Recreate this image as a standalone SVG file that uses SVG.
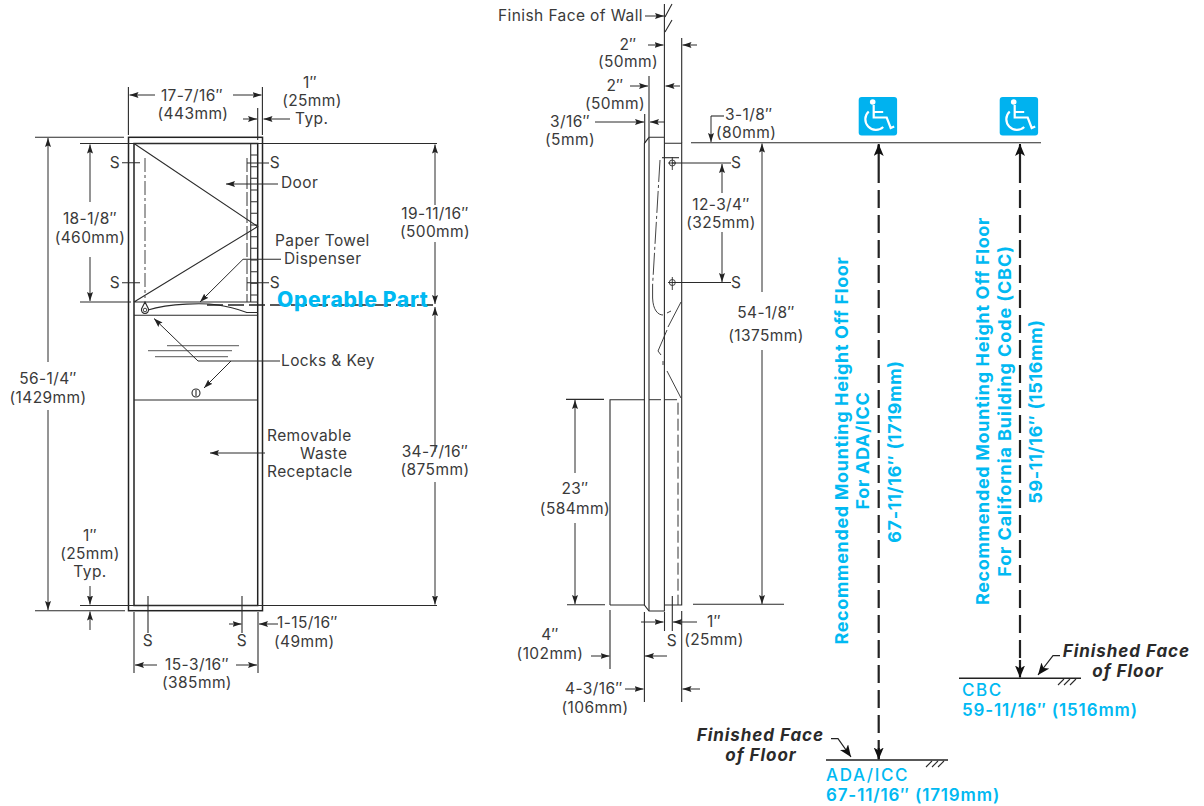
<svg xmlns="http://www.w3.org/2000/svg" width="1204" height="806" viewBox="0 0 1204 806">
<style>
text{font-family:"Inter","Liberation Sans",sans-serif;font-size:15.5px;letter-spacing:.4px;fill:#3a3a3a}
.m{text-anchor:middle}
.e{text-anchor:end}
.b{fill:#00b9f2;font-size:17px;letter-spacing:1.6px;font-weight:500}
.bb{fill:#00b9f2;font-weight:600;font-size:17px;letter-spacing:.85px}
.rt{fill:#00b9f2;font-weight:700;font-size:18px;letter-spacing:.65px}
.op{fill:#00b9f2;font-weight:800;font-size:21px;letter-spacing:.7px}
.ff{fill:#2a2a2a;font-weight:700;font-style:italic;font-size:17px;letter-spacing:.95px}
.l{fill:none;stroke:#2b2b2b;stroke-width:1.1}
.o{fill:none;stroke:#222;stroke-width:1.5}
.g{fill:none;stroke:#777;stroke-width:1.3}
.t{fill:none;stroke:#2b2b2b;stroke-width:.9}
.a{fill:none;stroke:#2b2b2b;stroke-width:1;marker-end:url(#ar)}
.dd{fill:none;stroke:#222;stroke-width:2.2;stroke-dasharray:18 7}
.dc{fill:none;stroke:#444;stroke-width:1;stroke-dasharray:14 3 3 3}
.dh{fill:none;stroke:#333;stroke-width:1;stroke-dasharray:12 5}
.w{fill:none;stroke:#fff;stroke-width:2.2}
</style>
<defs>
<marker id="ar" markerUnits="userSpaceOnUse" markerWidth="10" markerHeight="8" refX="9" refY="3" orient="auto"><path d="M0,0L9,3L0,6L1.5,3Z" fill="#222"/></marker>
<marker id="arb" markerUnits="userSpaceOnUse" markerWidth="14" markerHeight="12" refX="12" refY="5" orient="auto"><path d="M0,0L12,5L0,10L3,5Z" fill="#111"/></marker>
<g id="wc">
<rect width="38.4" height="38.4" rx="3" fill="#00b2ef"/>
<circle cx="14" cy="5" r="2.8" fill="#fff"/>
<path class="w" d="M15,8V20.5H28L32,31L35.5,29.5M15,15H24.5"/>
<path class="w" d="M10,14.5A10.5,10.5 0 1 0 24.5,30"/>
</g>
</defs>

<g id="front-view">
<rect class="o" x="128.5" y="137.3" width="134" height="473.4"/>
<rect class="o" x="134" y="143.5" width="123.7" height="462"/>
<path class="l" d="M134,143.5L257.7,226.5L134,302M134,302H257.7M134,315.3H257.7M134,400H257.7"/>
<path class="l" d="M250.7,143.5V302M250.7,155H257.7M250.7,166.7H257.7M250.7,178.3H257.7M250.7,190H257.7M250.7,201.7H257.7M250.7,213.3H257.7M250.7,225H257.7M250.7,236.7H257.7M250.7,248.3H257.7M250.7,260H257.7M250.7,271.7H257.7M250.7,283.3H257.7M250.7,295H257.7"/>
<path class="dc" d="M145,158V298"/>
<path class="dh" d="M247,158V302" style="stroke-dasharray:14 3"/>
<path class="l" d="M148,310C170,303 205,303 218,305C232,307 240,310 247,312.5H257.7"/>
<path class="l" d="M145,302L141.5,309A3.6,3.6 0 1 0 148.5,309Z"/>
<circle class="t" cx="145" cy="310" r="1.8"/>
<path class="g" d="M167,345.7H239M148,350.7H232M155,356.7H228"/>
<circle class="l" cx="196" cy="393" r="4"/>
<path class="l" d="M196,390V396"/>
</g>

<g id="side-view">
<path class="l" d="M664.4,4V611H649L644.4,605V143.3L649,137.3H664.4"/>
<path class="l" d="M649,137.3V611M664.4,143.3H681.7V605H664.4M610,605H644.4M610,605V399.7H644.4"/>
<path class="dh" d="M649,399.7H678V605" style="stroke-dasharray:12 4"/>
<path class="l" d="M665,17L672,4M665,32L672,20"/>
<path class="l" d="M662,157.7H679"/>
<circle class="t" cx="672.3" cy="163" r="3"/><path class="t" d="M672.3,157V170M668,163H676"/>
<circle class="t" cx="672.3" cy="282.5" r="3"/><path class="t" d="M672.3,277V290M668,282.5H676"/>
<path class="dc" d="M660,160L652.6,285" style="stroke-dasharray:22 3 3 3"/>
<path class="t" d="M652.6,285V298C653,310 658,315 663,315"/>
<path class="t" d="M667,313L671,311M681,302L668,327M667,330L658,351L661,355M663,361V365M667,371L681,398"/>
</g>

<g id="connectors">
<path class="l" d="M128.4,87V135M262.4,87V135M257.7,108V140M35,137.3H124M35,610.7H125M80,143.5H437M80,302H131M80,605.5H437"/>
<path class="a" d="M155,95H129.5"/><path class="a" d="M233,95H261.5"/>
<path class="a" d="M243,119H257"/><path class="a" d="M290,119H263.5"/>
<path class="a" d="M48,362V138"/><path class="a" d="M48,410V610"/>
<path class="a" d="M90,202V144.5"/><path class="a" d="M90,257V301"/>
<path class="a" d="M435,205V144.5"/><path class="a" d="M435,242V304"/>
<path class="a" d="M435,452V307"/><path class="a" d="M435,482V604.5"/>
<path class="l" d="M122,162.7H140M122,282.7H140M247,163H269M247,282.7H269"/>
<path class="a" d="M278,184H226"/>
<path class="l" d="M281,259.3H243"/><path class="a" d="M243,259.3L200,302"/>
<path class="l" d="M280,361H198"/><path class="a" d="M198,361L154,318.5"/><path class="a" d="M231,361L204,388"/>
<path class="a" d="M265,453H210"/>
<path class="a" d="M90,586V604.5"/><path class="a" d="M90,630V611.5"/>
<path class="l" d="M148,596V633M242,596V633M134,612V673M258,612V673"/>
<path class="a" d="M229,624H241.5"/><path class="a" d="M278,624H259"/>
<path class="a" d="M157,665H135"/><path class="a" d="M236,665H257"/>
<path d="M207,305H438" fill="none" stroke="#222" stroke-width="1.6" stroke-dasharray="16 5"/>
<path class="a" d="M645,16H664"/>
<path class="l" d="M681.7,38V143M649,76V137M644.7,114V143"/>
<path class="a" d="M648,45H663.5"/><path class="a" d="M697,45H682.5"/>
<path class="a" d="M630,86H648"/><path class="a" d="M680,86H665.5"/>
<path class="a" d="M595,122H644"/><path class="a" d="M665,122H650"/>
<path class="l" d="M672,163H731M672,282.5H731M691,142.7H1041"/>
<path class="a" d="M722,193V164"/><path class="a" d="M722,232V282"/>
<path class="l" d="M724,116H711"/><path class="a" d="M711,116V142"/>
<path class="a" d="M762,292V143.5"/><path class="a" d="M762,350V604"/>
<path class="l" d="M693,604.3H784M567,604.7H605M566,399.4H604"/>
<path class="a" d="M575,473V400"/><path class="a" d="M575,523V604"/>
<path class="l" d="M644.4,612V702M681.7,611V702M664.5,612V631M672.3,596V631M610,610V669"/>
<path class="a" d="M641,622H663.5"/><path class="a" d="M697,622H673"/>
<path class="a" d="M591,656H609.5"/><path class="a" d="M667,656H645"/>
<path class="a" d="M625,689H643.5"/><path class="a" d="M700,689H682.5"/>
<path class="dd" d="M878.7,165V740"/>
<path class="dd" d="M1020,165V660"/>
<path d="M878.7,165V145M878.7,740V759" fill="none" stroke="#222" stroke-width="2.2"/>
<path d="M1020,165V145M1020,660V677" fill="none" stroke="#222" stroke-width="2.2"/>
<path d="M878.7,154V144" fill="none" stroke="#111" stroke-width="2" marker-end="url(#arb)"/>
<path d="M1020,154V144" fill="none" stroke="#111" stroke-width="2" marker-end="url(#arb)"/>
<path d="M878.7,748V759.5" fill="none" stroke="#111" stroke-width="2" marker-end="url(#arb)"/>
<path d="M1020,666V677.5" fill="none" stroke="#111" stroke-width="2" marker-end="url(#arb)"/>
<path d="M826,760H948M959,678.3H1081" fill="none" stroke="#222" stroke-width="1.4"/>
<path class="l" d="M926,767L932,761M932,767L938,761M938,767L944,761M1058,685L1064,679M1064,685L1070,679M1070,685L1076,679"/>
<path d="M831,738.7H838L851,757" fill="none" stroke="#222" stroke-width="1.2" marker-end="url(#arb)"/>
<path d="M1060,655.7H1053L1038,675" fill="none" stroke="#222" stroke-width="1.2" marker-end="url(#arb)"/>
</g>

<g id="icons">
<use href="#wc" x="858.7" y="97"/>
<use href="#wc" x="999.7" y="97"/>
</g>

<g id="labels">
<text class="m" x="192" y="101">17-7/16″</text>
<text class="m" x="193" y="119">(443mm)</text>
<text class="m" x="310" y="88">1″</text>
<text class="m" x="312" y="106">(25mm)</text>
<text x="295" y="124">Typ.</text>
<text class="m" x="90" y="224">18-1/8″</text>
<text class="m" x="90" y="243">(460mm)</text>
<text class="m" x="48" y="384">56-1/4″</text>
<text class="m" x="48" y="403">(1429mm)</text>
<text class="m" x="115" y="168">S</text>
<text class="m" x="115" y="288">S</text>
<text class="m" x="275" y="168">S</text>
<text class="m" x="275" y="288">S</text>
<text x="281" y="188">Door</text>
<text x="275" y="246">Paper Towel</text>
<text x="284" y="264">Dispenser</text>
<text class="op" x="277" y="307">Operable Part</text>
<text class="m" x="435" y="219">19-11/16″</text>
<text class="m" x="435" y="237">(500mm)</text>
<text class="m" x="435" y="457">34-7/16″</text>
<text class="m" x="435" y="475">(875mm)</text>
<text x="281" y="366">Locks &amp; Key</text>
<text x="267" y="441">Removable</text>
<text x="300" y="459">Waste</text>
<text x="267" y="477">Receptacle</text>
<text class="m" x="90" y="541">1″</text>
<text class="m" x="90" y="559">(25mm)</text>
<text class="m" x="90" y="577">Typ.</text>
<text class="m" x="148" y="646">S</text>
<text class="m" x="242" y="646">S</text>
<text x="277" y="628">1-15/16″</text>
<text x="274" y="647">(49mm)</text>
<text class="m" x="197" y="670">15-3/16″</text>
<text class="m" x="197" y="688">(385mm)</text>
<text class="e" x="643" y="21">Finish Face of Wall</text>
<text class="m" x="628" y="50">2″</text>
<text class="m" x="628" y="67">(50mm)</text>
<text class="m" x="615" y="91">2″</text>
<text class="m" x="615" y="109">(50mm)</text>
<text class="m" x="570" y="127">3/16″</text>
<text class="m" x="570" y="145">(5mm)</text>
<text x="725" y="120">3-1/8″</text>
<text x="716" y="138">(80mm)</text>
<text x="731" y="168">S</text>
<text x="731" y="288">S</text>
<text class="m" x="721" y="210">12-3/4″</text>
<text class="m" x="721" y="228">(325mm)</text>
<text class="m" x="766" y="318">54-1/8″</text>
<text class="m" x="766" y="341">(1375mm)</text>
<text class="m" x="575" y="494">23″</text>
<text class="m" x="575" y="514">(584mm)</text>
<text class="m" x="550" y="640">4″</text>
<text class="m" x="550" y="659">(102mm)</text>
<text class="m" x="672" y="646">S</text>
<text class="m" x="714" y="627">1″</text>
<text class="m" x="714" y="645">(25mm)</text>
<text x="565" y="694">4-3/16″</text>
<text class="m" x="595" y="713">(106mm)</text>
<text class="ff e" x="824" y="741">Finished Face</text>
<text class="ff m" x="761" y="761">of Floor</text>
<text class="ff e" x="1190" y="657">Finished Face</text>
<text class="ff m" x="1128" y="677">of Floor</text>
<text class="b" x="826" y="781">ADA/ICC</text>
<text class="bb" x="826" y="801">67-11/16″ (1719mm)</text>
<text class="b" x="962" y="696">CBC</text>
<text class="bb" x="962" y="716">59-11/16″ (1516mm)</text>
<text class="rt m" transform="translate(848 450.5) rotate(-90)">Recommended Mounting Height Off Floor</text>
<text class="rt m" transform="translate(869 450.5) rotate(-90)">For ADA/ICC</text>
<text class="rt m" transform="translate(901 451.5) rotate(-90)">67-11/16″ (1719mm)</text>
<text class="rt m" transform="translate(989 411) rotate(-90)">Recommended Mounting Height Off Floor</text>
<text class="rt m" transform="translate(1011 411) rotate(-90)" style="letter-spacing:.9px">For California Building Code (CBC)</text>
<text class="rt m" transform="translate(1042 411.5) rotate(-90)">59-11/16″ (1516mm)</text>
</g>
</svg>
